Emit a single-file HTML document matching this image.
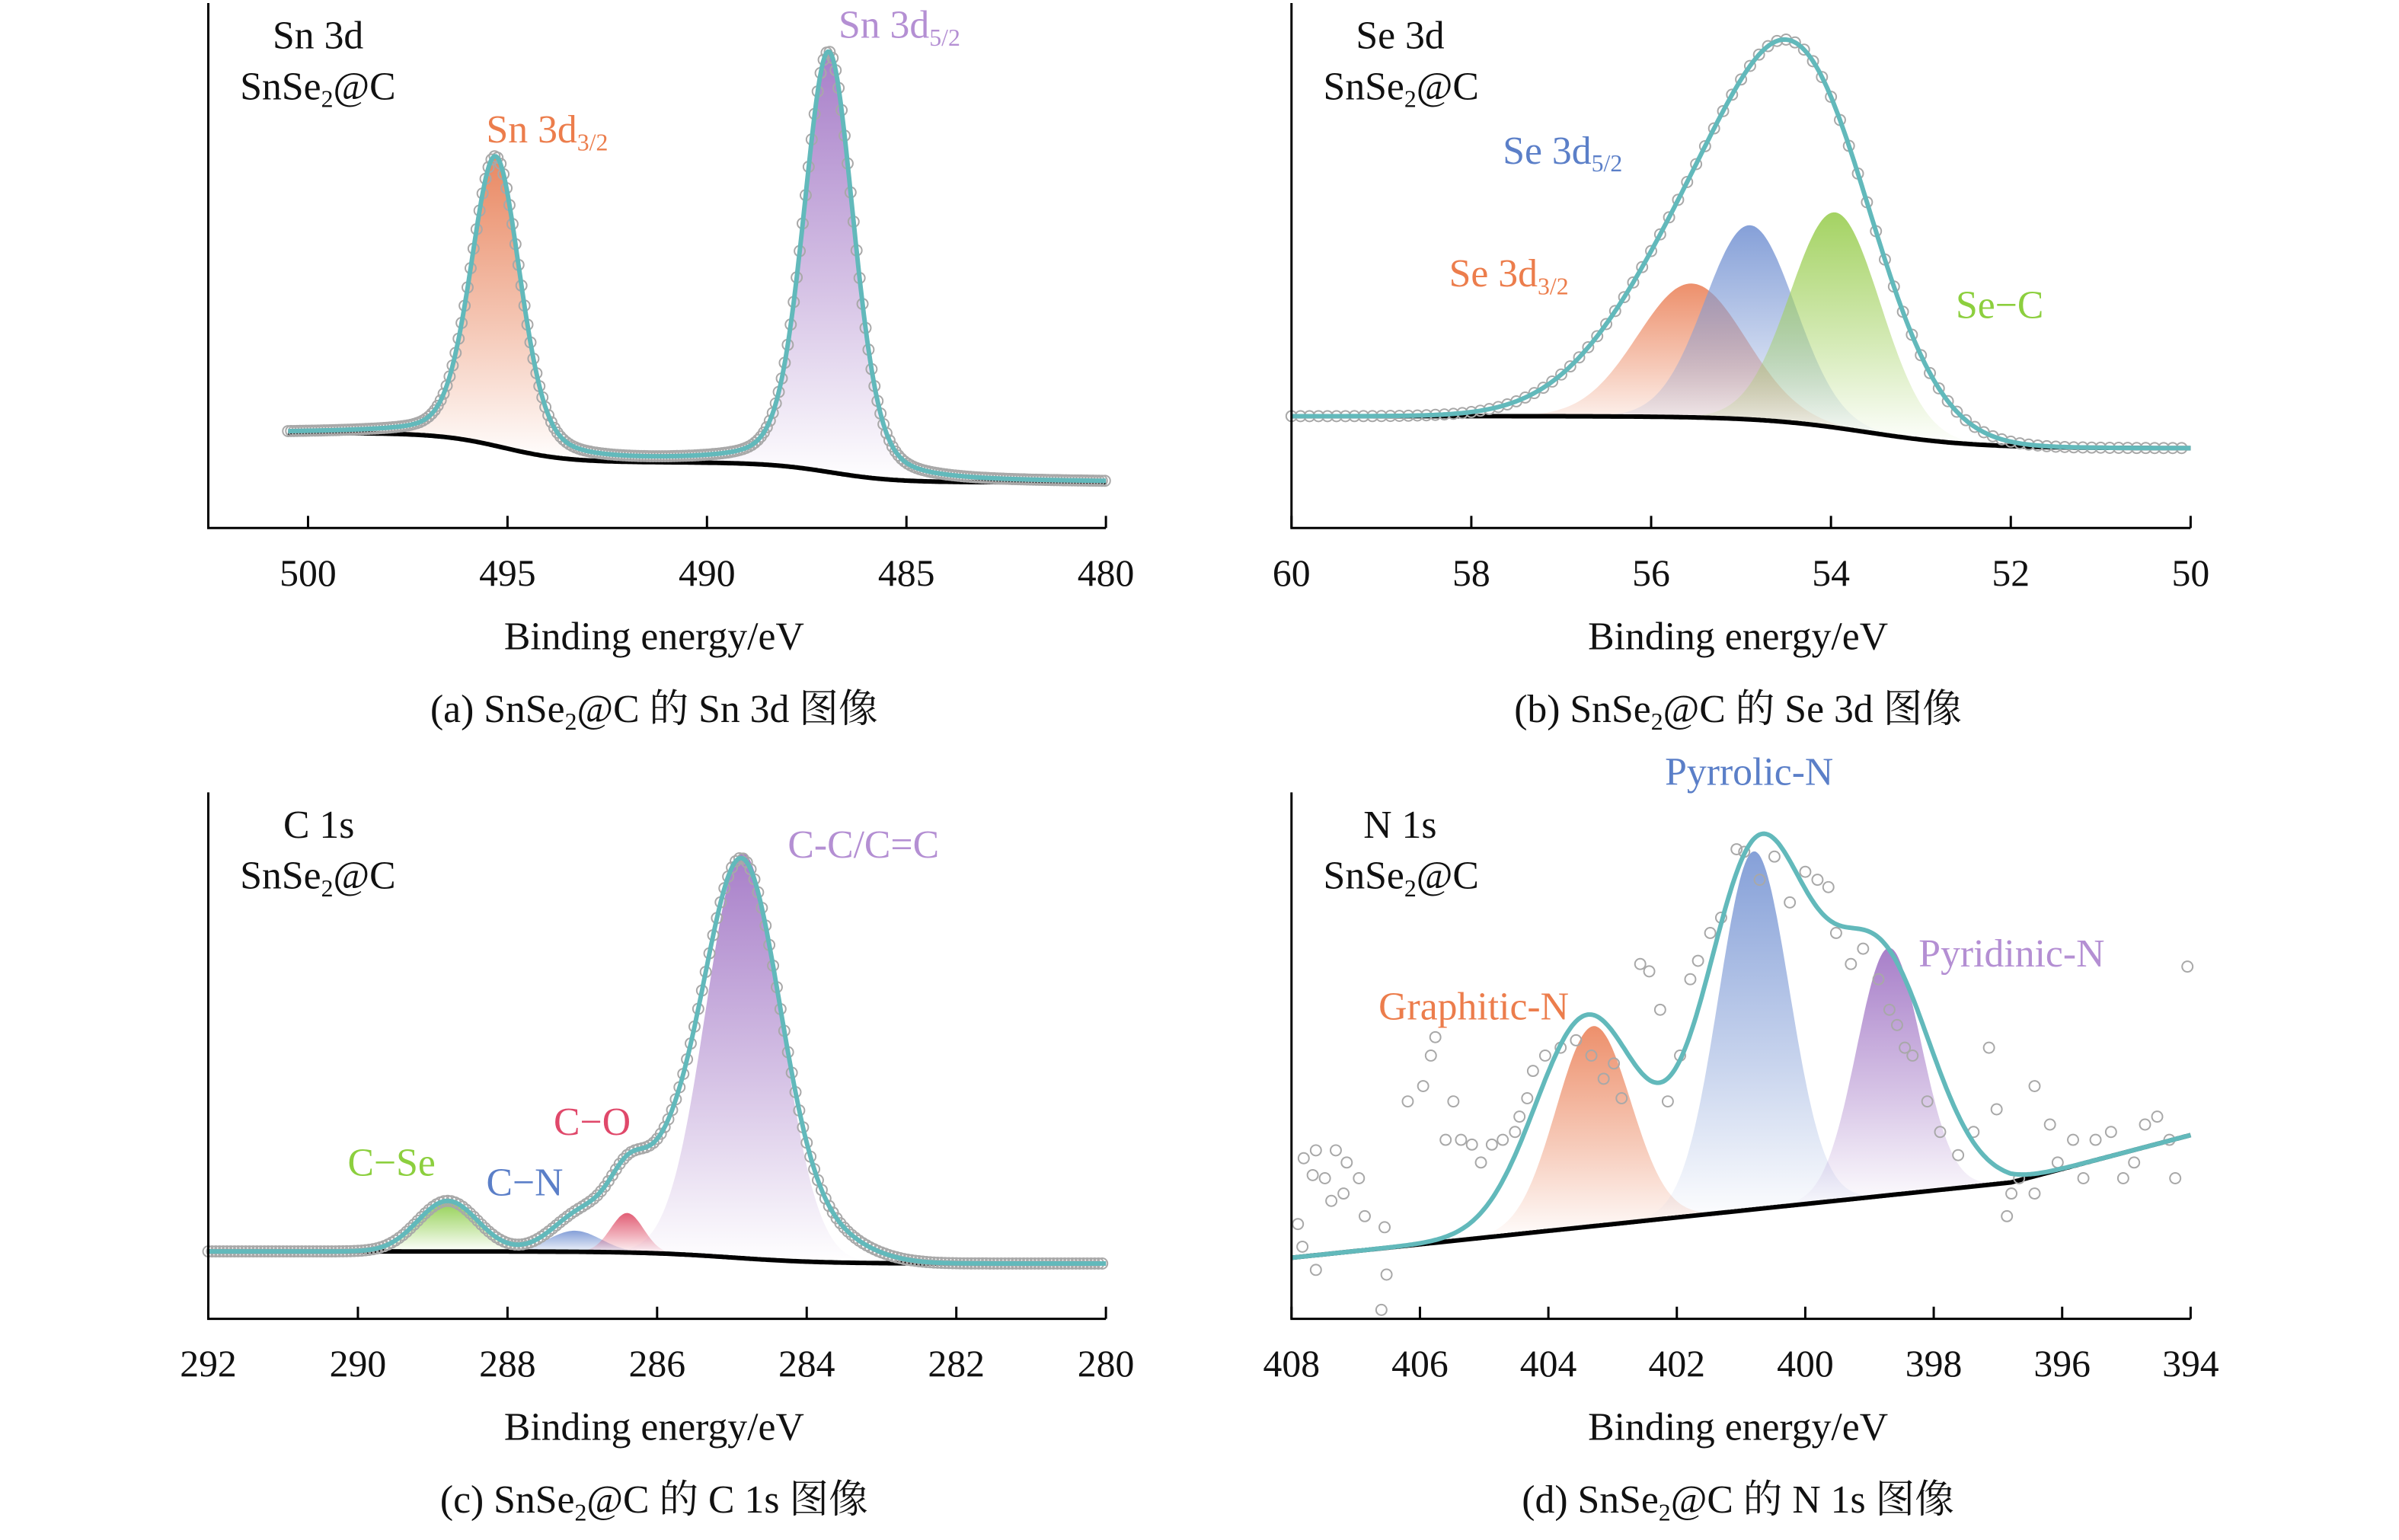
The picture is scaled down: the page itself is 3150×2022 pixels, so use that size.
<!DOCTYPE html>
<html><head><meta charset="utf-8"><title>SnSe2@C XPS</title>
<style>html,body{margin:0;padding:0;background:#fff}svg{display:block}</style></head>
<body>
<svg id="fig" xmlns="http://www.w3.org/2000/svg" width="3150" height="2022" viewBox="0 0 3150 2022">
<defs id="defs"></defs>
<g id="root" transform="scale(0.9946)"></g>
</svg>
<script>
// ---------- data ----------
// (a) Sn 3d
const snCenters = [495.3, 486.95];
const snAmps = [55, 80];
const snSigmas = [0.62, 0.63];
const snBgBase = 8.7;
const snBgSteps = [3.8, 5.6];
const snBgStepCenters = [486.9, 495.1];
const snTicks = [500, 495, 490, 485, 480];
// (b) Se 3d
const seCenters = [55.55, 54.9, 53.95];
const seAmps = [25.5, 37, 41];
const seSigmas = [0.6, 0.5, 0.5];
const seFitCenters = [55.2, 54.2];
const seFitAmps = [40, 45];
const seFitSigmas = [1.0, 0.75];
const seBgBase = 15.2;
const seBgSteps = [6.1];
const seBgStepCenters = [53.6];
const seTicks = [60, 58, 56, 54, 52, 50];
// (c) C 1s
const cCenters = [288.8, 287.1, 286.4, 284.85];
const cAmps = [9.6, 4, 7.5, 77];
const cSigmas = [0.4, 0.35, 0.22, 0.5];
const cFitCenters = [288.8, 287.1, 286.4, 284.85, 285.9, 283.9];
const cFitAmps = [9.6, 4, 5, 69, 16, 6];
const cFitSigmas = [0.4, 0.35, 0.22, 0.5, 0.7, 0.6];
const cBgBase = 10.5;
const cBgSteps = [2.3];
const cBgStepCenters = [285.0];
const cTicks = [292, 290, 288, 286, 284, 282, 280];
// (d) N 1s
const nCenters = [403.3, 400.8, 398.7];
const nAmps = [38, 68, 47];
const nSigmas = [0.58, 0.55, 0.5];
const nFitCenters = [403.4, 400.75, 398.85];
const nFitAmps = [40, 68, 45];
const nFitSigmas = [0.8, 0.8, 0.8];
const nBgE = [408, 396.8, 394];
const nBgI = [11.6, 25.9, 34.9];
const nDotsE = [407.81,407.62,407.31,407.14,407.48,406.95,407.19,406.86,406.55,407.9,407.83,407.62,407.67,407.38,406.19,405.95,405.83,405.76,405.6,405.48,405.36,405.19,405.05,404.88,404.71,404.52,404.45,404.33,404.24,404.05,403.81,403.57,403.33,403.14,402.98,402.86,402.57,402.43,402.26,402.14,401.95,401.79,401.67,401.48,401.31,401.07,400.95,400.71,400.48,400.24,400,399.81,399.64,399.52,399.29,399.1,398.86,398.69,398.57,398.45,398.33,398.1,397.9,397.62,397.14,397.02,396.79,396.67,396.43,396.19,396.07,395.83,395.67,395.48,395.24,395.05,394.88,394.71,394.52,394.33,394.24,394.05,406.52,406.6,397.38,396.86,396.43];
const nDotsI = [30.5,32,32,29.7,26.7,26.7,23.8,19.5,17.4,18,13.7,9.3,27.3,22.4,41.3,44.2,50,53.5,34,41.3,34,33.1,29.7,33.1,34,35.5,38.4,41.9,47.1,50,51.5,52.9,50,45.6,48.5,41.9,67.4,66,58.7,41.3,50,64.5,68,73.3,76.2,89.2,88.7,83.4,87.8,79.1,84.9,83.4,82,73.3,67.4,70.3,64.5,58.7,55.8,51.5,50,41.3,35.5,31.1,51.5,39.8,23.8,26.7,44.2,36.9,29.7,34,26.7,34,35.5,26.7,29.7,36.9,38.4,34,26.7,66.9,8.4,1.7,35.5,19.5,23.8];

// ---------- helpers ----------
const NS = 'http://www.w3.org/2000/svg';
const root = document.getElementById('root');
const defs = document.getElementById('defs');
function mk(tag, attrs, parent) {
  const e = document.createElementNS(NS, tag);
  for (const k in attrs) e.setAttribute(k, attrs[k]);
  (parent || root).appendChild(e);
  return e;
}
const gauss = (x, c, a, s) => a * Math.exp(-((x - c) * (x - c)) / (2 * s * s));
const pvoigt = (x, c, a, s) => 0.72 * gauss(x, c, a, s) + 0.28 * a / (1 + Math.pow((x - c) / (s * 1.177), 2));
function sumG(x, C, A, S) { let v = 0; for (let i = 0; i < C.length; i++) v += gauss(x, C[i], A[i], S[i]); return v; }
function sumPV(x, C, A, S) { let v = 0; for (let i = 0; i < C.length; i++) v += pvoigt(x, C[i], A[i], S[i]); return v; }
function stepBg(x, base, steps, centers, w) { let v = base; for (let i = 0; i < steps.length; i++) v += steps[i] / (1 + Math.exp(-(x - centers[i]) / (w || 0.6))); return v; }
function linBg(x, E, I) {
  for (let i = 0; i < E.length - 1; i++) {
    if (x <= E[i] && x >= E[i + 1]) return I[i] + (I[i + 1] - I[i]) * (E[i] - x) / (E[i] - E[i + 1]);
  }
  return x > E[0] ? I[0] : I[I.length - 1];
}
function makeGrad(id, color) {
  const g = mk('linearGradient', {id: id, x1: 0, y1: 0, x2: 0, y2: 1}, defs);
  mk('stop', {offset: '0', 'stop-color': color, 'stop-opacity': '0.95'}, g);
  mk('stop', {offset: '0.55', 'stop-color': color, 'stop-opacity': '0.45'}, g);
  mk('stop', {offset: '1', 'stop-color': color, 'stop-opacity': '0'}, g);
}
function txt(x, y, str, size, color, anchor, parent) {
  const t = mk('text', {x: x, y: y, 'font-family': '"Liberation Serif","Noto Serif CJK SC",serif', 'font-size': size, fill: color, 'text-anchor': anchor || 'start'}, parent);
  if (Array.isArray(str)) {
    str.forEach(p => {
      const s = mk('tspan', {}, t);
      if (p.sub) { s.setAttribute('font-size', Math.round(size * 0.62)); s.setAttribute('dy', size * 0.2); }
      else if (p.after) { s.setAttribute('dy', -size * 0.2); }
      s.textContent = p.t;
    });
  } else t.textContent = str;
  return t;
}

// ---------- panel ----------
function panel(cfg) {
  const g = mk('g', {});
  
  
  const xs = e => cfg.x0 + (e - cfg.e0) / (cfg.e1 - cfg.e0) * (cfg.x1 - cfg.x0);
  const ys = v => cfg.yAxis - v / 100 * (cfg.yAxis - cfg.yTop);
  const shape = cfg.shape || gauss;
  const N = 500, pts = [];
  for (let i = 0; i <= N; i++) pts.push(cfg.dStart + (cfg.dEnd - cfg.dStart) * i / N);
  const fills = mk('g', {}, g);
  
  
  cfg.comps.C.forEach((c, i) => {
    const gid = cfg.id + 'g' + i;
    makeGrad(gid, cfg.colors[i]);
    let top = '', bot = [];
    const span = cfg.shape ? 7 : 4;
    const lo = Math.max(Math.min(cfg.dStart, cfg.dEnd), c - span * cfg.comps.S[i]);
    const hi = Math.min(Math.max(cfg.dStart, cfg.dEnd), c + span * cfg.comps.S[i]);
    for (let k = 0; k <= 160; k++) {
      const e = hi - (hi - lo) * k / 160;
      const b = cfg.bg(e);
      top += (k ? 'L' : 'M') + xs(e).toFixed(1) + ',' + ys(b + shape(e, c, cfg.comps.A[i], cfg.comps.S[i])).toFixed(1);
      bot.push(xs(e).toFixed(1) + ',' + ys(b).toFixed(1));
    }
    const p = mk('path', {d: top + 'L' + bot.reverse().join('L') + 'Z', fill: 'url(#' + gid + ')'}, fills);
    
    
  });
  let dBg = '';
  pts.forEach((e, k) => { dBg += (k ? 'L' : 'M') + xs(e).toFixed(1) + ',' + ys(cfg.bg(e)).toFixed(1); });
  const bgp = mk('path', {d: dBg, fill: 'none', stroke: '#000', 'stroke-width': 6}, g);
  
  
  const dots = mk('g', {fill: 'none', stroke: '#a8a8a8', 'stroke-width': 2}, g);
  
  
  if (cfg.dotsE) {
    cfg.dotsE.forEach((e, k) => {
      const c = mk('circle', {cx: xs(e).toFixed(1), cy: ys(cfg.dotsI[k]).toFixed(1), r: 7}, dots);
      
      
    });
  } else {
    for (let e = cfg.dStart; e >= cfg.dEnd; e -= cfg.dotStep) {
      const c = mk('circle', {cx: xs(e).toFixed(1), cy: ys(cfg.fit(e)).toFixed(1), r: 7}, dots);
      
      
    }
  }
  let dF = '';
  pts.forEach((e, k) => { dF += (k ? 'L' : 'M') + xs(e).toFixed(1) + ',' + ys(cfg.fit(e)).toFixed(1); });
  const fp = mk('path', {d: dF, fill: 'none', stroke: '#62b9bb', 'stroke-width': 6, 'stroke-linejoin': 'round'}, g);
  
  
  const ax = mk('path', {d: 'M' + cfg.x0 + ',' + cfg.yTop + 'V' + cfg.yAxis + 'H' + cfg.x1, fill: 'none', stroke: '#000', 'stroke-width': 3}, g);
  
  
  cfg.ticks.forEach(t => {
    const x = xs(t);
    const tk = mk('line', {x1: x, x2: x, y1: cfg.yAxis, y2: cfg.yAxis - 16, stroke: '#000', 'stroke-width': 3}, g);
    
    
    const tl = txt(x, cfg.yAxis + 76, String(t), 50, '#111', 'middle', g);
    
    
  });
  const cx = (cfg.x0 + cfg.x1) / 2 - 4;
  const xl = txt(cx, cfg.yAxis + 160, 'Binding energy/eV', 52, '#111', 'middle', g);
  
  
  const cap = txt(cx, cfg.yAxis + 256, cfg.caption, 52, '#111', 'middle', g);
  
  
  const t1 = txt(cfg.x0 + cfg.titleDx, cfg.yTop + 60, cfg.title, 52, '#111', 'start', g);
  
  
  const t2 = txt(cfg.x0 + 42, cfg.yTop + 127, [{t: 'SnSe'}, {t: '2', sub: 1}, {t: '@C', after: 1}], 52, '#111', 'start', g);
  
  
  cfg.peakLabels.forEach(L => {
    const t = txt(L.x, L.y, L.t, 52, L.c, 'start', g);
    
    
  });
}

const SUBCAP = (p, s) => [{t: p + ' SnSe'}, {t: '2', sub: 1}, {t: '@C 的 ' + s + ' 图像', after: 1}];

panel({
  id: 'a', name: 'panel-a-sn3d', x0: 275, x1: 1460, e0: 502.5, e1: 480, yTop: 4, yAxis: 697,
  dStart: 500.5, dEnd: 480, dotStep: 0.075, ticks: snTicks, shape: pvoigt,
  bg: e => stepBg(e, snBgBase, snBgSteps, snBgStepCenters, 0.8),
  fit: e => stepBg(e, snBgBase, snBgSteps, snBgStepCenters, 0.8) + sumPV(e, snCenters, snAmps, snSigmas),
  comps: {C: snCenters, A: snAmps, S: snSigmas}, colors: ['#e8825a', '#a378c6'], labels: ['sn3d32', 'sn3d52'],
  title: 'Sn 3d', titleDx: 85, caption: SUBCAP('(a)', 'Sn 3d'),
  peakLabels: [
    {x: 642, y: 188, c: '#ec7d4c', t: [{t: 'Sn 3d'}, {t: '3/2', sub: 1}]},
    {x: 1107, y: 50, c: '#b48fd3', t: [{t: 'Sn 3d'}, {t: '5/2', sub: 1}]}
  ]
});
panel({
  id: 'b', name: 'panel-b-se3d', x0: 1705, x1: 2892, e0: 60, e1: 50, yTop: 4, yAxis: 697,
  dStart: 60, dEnd: 50, dotStep: 0.1, ticks: seTicks,
  bg: e => stepBg(e, seBgBase, seBgSteps, seBgStepCenters),
  fit: e => stepBg(e, seBgBase, seBgSteps, seBgStepCenters) + sumG(e, seFitCenters, seFitAmps, seFitSigmas),
  comps: {C: seCenters, A: seAmps, S: seSigmas}, colors: ['#ec8a64', '#7f9bd6', '#9fd05a'], labels: ['se3d32', 'se3d52', 'se-c'],
  title: 'Se 3d', titleDx: 85, caption: SUBCAP('(b)', 'Se 3d'),
  peakLabels: [
    {x: 1984, y: 216, c: '#5b7fc8', t: [{t: 'Se 3d'}, {t: '5/2', sub: 1}]},
    {x: 1913, y: 378, c: '#ec7d4c', t: [{t: 'Se 3d'}, {t: '3/2', sub: 1}]},
    {x: 2582, y: 420, c: '#8ccf3e', t: 'Se−C'}
  ]
});
panel({
  id: 'c', name: 'panel-c-c1s', x0: 275, x1: 1460, e0: 292, e1: 280, yTop: 1046, yAxis: 1741,
  dStart: 292, dEnd: 280, dotStep: 0.05, ticks: cTicks,
  bg: e => stepBg(e, cBgBase, cBgSteps, cBgStepCenters),
  fit: e => stepBg(e, cBgBase, cBgSteps, cBgStepCenters) + sumG(e, cFitCenters, cFitAmps, cFitSigmas),
  comps: {C: cCenters, A: cAmps, S: cSigmas}, colors: ['#8ccd48', '#7f9bd6', '#e0566e', '#a378c6'], labels: ['c-se', 'c-n', 'c-o', 'c-c'],
  title: 'C 1s', titleDx: 99, caption: SUBCAP('(c)', 'C 1s'),
  peakLabels: [
    {x: 1040, y: 1132, c: '#b48fd3', t: 'C-C/C=C'},
    {x: 731, y: 1498, c: '#e0486a', t: 'C−O'},
    {x: 459, y: 1552, c: '#8ccf3e', t: 'C−Se'},
    {x: 642, y: 1578, c: '#5b7fc8', t: 'C−N'}
  ]
});
panel({
  id: 'd', name: 'panel-d-n1s', x0: 1705, x1: 2892, e0: 408, e1: 394, yTop: 1046, yAxis: 1741,
  dStart: 408, dEnd: 394, ticks: [408, 406, 404, 402, 400, 398, 396, 394],
  dotsE: nDotsE, dotsI: nDotsI,
  bg: e => linBg(e, nBgE, nBgI),
  fit: e => linBg(e, nBgE, nBgI) + sumG(e, nFitCenters, nFitAmps, nFitSigmas),
  comps: {C: nCenters, A: nAmps, S: nSigmas}, colors: ['#ec8a64', '#7f9bd6', '#a378c6'], labels: ['graphitic-n', 'pyrrolic-n', 'pyridinic-n'],
  title: 'N 1s', titleDx: 95, caption: SUBCAP('(d)', 'N 1s'),
  peakLabels: [
    {x: 2198, y: 1036, c: '#5b7fc8', t: 'Pyrrolic-N'},
    {x: 2533, y: 1276, c: '#b48fd3', t: 'Pyridinic-N'},
    {x: 1820, y: 1346, c: '#ec7d4c', t: 'Graphitic-N'}
  ]
});
</script>
</body></html>
